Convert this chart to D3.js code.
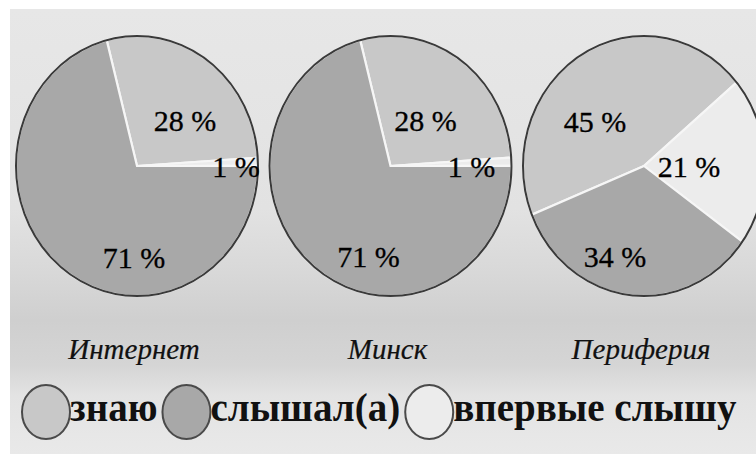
<!DOCTYPE html>
<html>
<head>
<meta charset="utf-8">
<script src="https://cdn.jsdelivr.net/npm/d3@7"></script>
<style>
  html, body { margin: 0; padding: 0; background: #fff; }
  svg { display: block; }
</style>
</head>
<body>
<svg id="chart"></svg>
<script>
// data
const regions = ["Интернет", "Минск", "Периферия"];
const answers = ["знаю", "впервые слышу", "слышал(а)"];   // order of slices in each pie
const legendOrder = ["знаю", "слышал(а)", "впервые слышу"];
const know = [28, 28, 45];
const firstTime = [1, 1, 21];
const heard = [71, 71, 34];

// layout
const width = 756, height = 454;
const rx = 121, ry = 130;
const pieY = 166;
const startDeg = [-14.5, -14.5, -112];
// label offsets from pie centre: [dx, baseline dy] per answer
const labelOffsets = [
  [[48, -35], [99, 11], [-3, 102]],
  [[35, -35], [81, 11], [-22, 101]],
  [[-49, -34], [45, 11], [-29, 101]]
];
const colors = { "знаю": "#c8c8c8", "впервые слышу": "#ececec", "слышал(а)": "#a8a8a8" };

const svg = d3.select("#chart").attr("width", width).attr("height", height);

// background
const defs = svg.append("defs");
const grad = defs.append("linearGradient").attr("id", "bg")
  .attr("x1", 0).attr("y1", 0).attr("x2", 0).attr("y2", 1);
[[0, "#e7e7e7"], [0.45, "#e2e2e2"], [0.58, "#d9d9d9"], [0.7, "#cfcfcf"], [0.8, "#d5d5d5"],
 [0.87, "#e3e3e3"], [1, "#e9e9e9"]].forEach(s => {
  grad.append("stop").attr("offset", s[0]).attr("stop-color", s[1]);
});
svg.append("rect").attr("x", 10).attr("y", 9).attr("width", width - 10).attr("height", height - 9)
  .attr("fill", "url(#bg)");

const x = d3.scalePoint().domain(regions).range([137, 644]);
const arc = d3.arc().innerRadius(0).outerRadius(rx);

regions.forEach((r, i) => {
  const values = [know[i], firstTime[i], heard[i]];
  const rows = answers.map((a, j) => ({ answer: a, value: values[j] }));
  const a0 = startDeg[i] * Math.PI / 180;
  const pie = d3.pie().sort(null).value(d => d.value).startAngle(a0).endAngle(a0 + 2 * Math.PI);

  const g = svg.append("g").attr("transform", "translate(" + x(r) + "," + pieY + ")");
  const gs = g.append("g").attr("transform", "scale(1," + (ry / rx) + ")");

  gs.selectAll("path")
    .data(pie(rows))
    .enter().append("path")
    .attr("d", arc)
    .attr("fill", d => colors[d.data.answer])
    .attr("stroke", "#f6f6f6")
    .attr("stroke-width", 2.2)
    .attr("vector-effect", "non-scaling-stroke");

  g.append("ellipse").attr("rx", rx).attr("ry", ry)
    .attr("fill", "none").attr("stroke", "#3a3a3a").attr("stroke-width", 2);

  rows.forEach((d, j) => {
    g.append("text")
      .attr("x", labelOffsets[i][j][0])
      .attr("y", labelOffsets[i][j][1])
      .attr("text-anchor", "middle")
      .attr("font-family", "Liberation Serif, serif")
      .attr("font-size", 30)
      .attr("fill", "#000")
      .attr("stroke", "#000")
      .attr("stroke-width", 0.3)
      .text(d.value + " %");
  });

  svg.append("text")
    .attr("x", x(r) - 3)
    .attr("y", 359)
    .attr("text-anchor", "middle")
    .attr("font-family", "Liberation Serif, serif")
    .attr("font-style", "italic")
    .attr("font-size", 29)
    .attr("fill", "#111")
    .attr("stroke", "#111")
    .attr("stroke-width", 0.2)
    .text(r);
});

// legend
let lx = 22;
legendOrder.forEach(a => {
  svg.append("ellipse")
    .attr("cx", lx + 24).attr("cy", 412).attr("rx", 24).attr("ry", 27)
    .attr("fill", colors[a]).attr("stroke", "#4a4a4a").attr("stroke-width", 2);
  const t = svg.append("text")
    .attr("x", lx + 48).attr("y", 421)
    .attr("font-family", "Liberation Serif, serif")
    .attr("font-weight", "bold")
    .attr("font-size", 39)
    .attr("fill", "#111")
    .text(a);
  lx += 48 + t.node().getComputedTextLength() + 5;
});
</script>
</body>
</html>
